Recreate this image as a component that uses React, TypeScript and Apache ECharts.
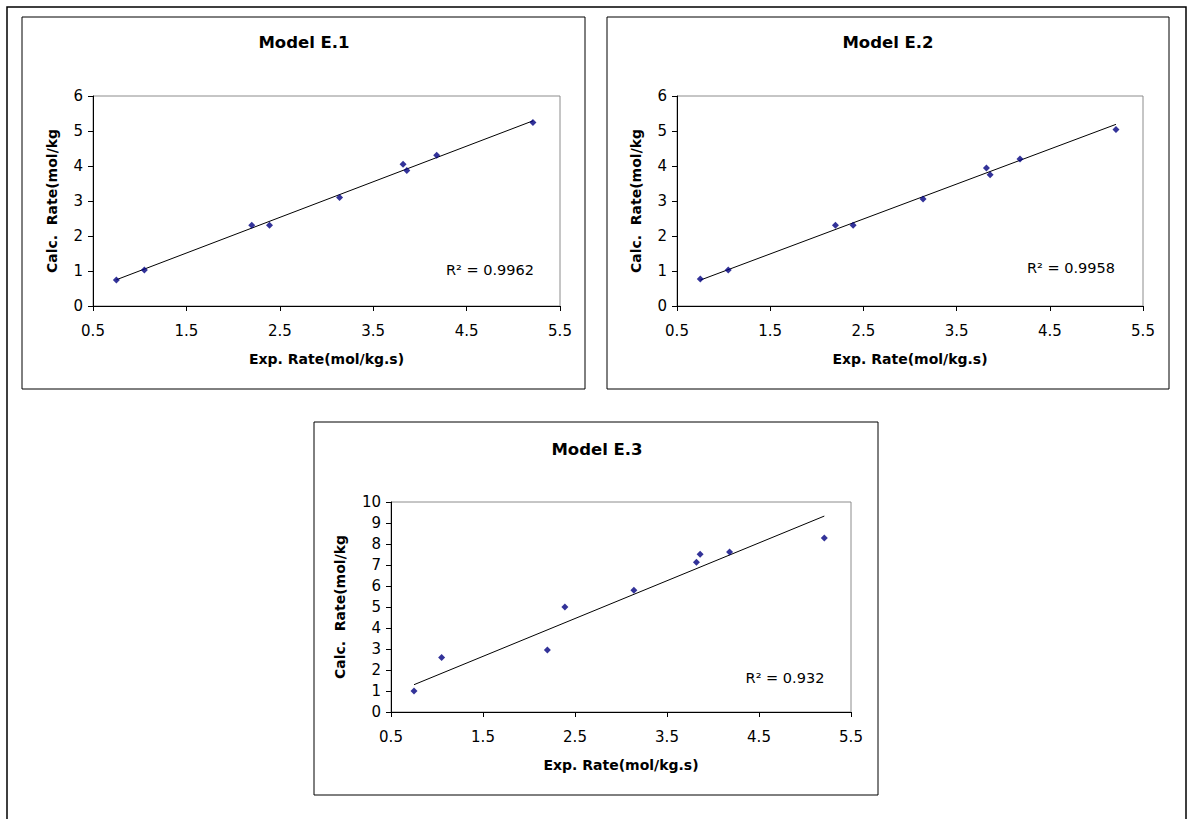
import React, { useEffect, useRef } from "react";
import * as echarts from "echarts";

// ---- data ----
const expRate = [0.75, 1.05, 2.2, 2.39, 3.14, 3.82, 3.86, 4.18, 5.21];
const calcE1 = [0.74, 1.03, 2.31, 2.31, 3.1, 4.05, 3.87, 4.31, 5.24];
const calcE2 = [0.77, 1.03, 2.31, 2.31, 3.06, 3.94, 3.75, 4.2, 5.04];
const calcE3 = [1.0, 2.59, 2.95, 5.0, 5.8, 7.13, 7.51, 7.62, 8.29];
const trendX = [0.75, 5.21];
const trendE1 = [0.75, 5.29];
const trendE2 = [0.74, 5.19];
const trendE3 = [1.3, 9.33];
const titles = ["Model E.1", "Model E.2", "Model E.3"];
const r2Labels = ["R\u00B2 = 0.9962", "R\u00B2 = 0.9958", "R\u00B2 = 0.932"];
const xTicks = [0.5, 1.5, 2.5, 3.5, 4.5, 5.5];
const yMax = [6, 6, 10];
const xName = "Exp. Rate(mol/kg.s)";
const yName = "Calc.  Rate(mol/kg";

const FONT = "DejaVu Sans";

export default function App() {
  const ref = useRef<HTMLDivElement>(null);
  useEffect(() => {
    if (!ref.current) return;
    const chart = echarts.init(ref.current, undefined, { renderer: "svg" });

    const grids = [
      { left: 93, top: 96, width: 467, height: 210 },
      { left: 677, top: 96, width: 466, height: 210 },
      { left: 391, top: 502, width: 460, height: 210 },
    ];
    const yNameGap = [34, 34, 44];
    const calcs = [calcE1, calcE2, calcE3];
    const trends = [trendE1, trendE2, trendE3];
    const titlePos = [
      { x: 304, y: 34 },
      { x: 888, y: 34 },
      { x: 597, y: 441 },
    ];
    const r2Pos = [
      { x: 490, y: 270 },
      { x: 1071, y: 268 },
      { x: 785, y: 678 },
    ];

    const option: any = {
      animation: false,
      backgroundColor: "#ffffff",
      textStyle: { fontFamily: FONT },
      title: titles.map((t, i) => ({
        text: t,
        left: titlePos[i].x,
        top: titlePos[i].y,
        textAlign: "center",
        padding: 0,
        textStyle: { fontSize: 16.5, fontWeight: "bold", color: "#000", fontFamily: FONT },
      })),
      grid: grids.map((g) => ({
        ...g,
        show: true,
        borderColor: "#8c8c8c",
        borderWidth: 1,
        backgroundColor: "#ffffff",
      })),
      xAxis: grids.map((_, i) => ({
        type: "value",
        gridIndex: i,
        min: 0.5,
        max: 5.5,
        name: xName,
        nameLocation: "middle",
        nameGap: 46,
        nameMoveOverlap: false,
        nameTextStyle: { fontWeight: "bold", fontSize: 14, color: "#000", fontFamily: FONT },
        axisLine: { show: true, onZero: false, lineStyle: { color: "#000", width: 1 } },
        axisTick: { show: true, inside: false, length: 5, customValues: xTicks, lineStyle: { color: "#000" } },
        axisLabel: {
          customValues: xTicks,
          formatter: (v: number) => v.toFixed(1),
          fontSize: 15,
          color: "#000",
          margin: 17,
          fontFamily: FONT,
        },
        splitLine: { show: false },
      })),
      yAxis: grids.map((_, i) => ({
        type: "value",
        gridIndex: i,
        min: 0,
        max: yMax[i],
        interval: 1,
        name: yName,
        nameLocation: "middle",
        nameRotate: 90,
        nameGap: yNameGap[i],
        nameMoveOverlap: false,
        nameTextStyle: { fontWeight: "bold", fontSize: 14, color: "#000", fontFamily: FONT },
        axisLine: { show: true, onZero: false, lineStyle: { color: "#000", width: 1 } },
        axisTick: { show: true, inside: false, length: 5, lineStyle: { color: "#000" } },
        axisLabel: { fontSize: 15, color: "#000", margin: 10, fontFamily: FONT },
        splitLine: { show: false },
      })),
      series: [
        ...calcs.map((c, i) => ({
          type: "scatter",
          xAxisIndex: i,
          yAxisIndex: i,
          data: expRate.map((x, k) => [x, c[k]]),
          symbol: "diamond",
          symbolSize: 7,
          itemStyle: { color: "#00007f" },
          z: 3,
        })),
        ...trends.map((t, i) => ({
          type: "line",
          xAxisIndex: i,
          yAxisIndex: i,
          data: trendX.map((x, k) => [x, t[k]]),
          symbol: "none",
          showSymbol: false,
          lineStyle: { color: "#000", width: 1 },
          z: 2,
        })),
      ],
      graphic: [
        {
          type: "polyline",
          shape: { points: [[7, 830], [7, 7], [1186, 7], [1186, 830]] },
          style: { stroke: "#000", lineWidth: 1.5, fill: "none" },
          silent: true,
        },
        {
          type: "rect",
          shape: { x: 22, y: 17, width: 563, height: 372 },
          style: { stroke: "#000", lineWidth: 1, fill: "none" },
          silent: true,
        },
        {
          type: "rect",
          shape: { x: 607, y: 17, width: 562, height: 372 },
          style: { stroke: "#000", lineWidth: 1, fill: "none" },
          silent: true,
        },
        {
          type: "rect",
          shape: { x: 314, y: 422, width: 564, height: 373 },
          style: { stroke: "#000", lineWidth: 1, fill: "none" },
          silent: true,
        },
        ...r2Labels.map((t, i) => ({
          type: "text",
          x: r2Pos[i].x,
          y: r2Pos[i].y,
          z: 10,
          style: {
            text: t,
            font: `14.5px "${FONT}"`,
            fill: "#000",
            align: "center",
            verticalAlign: "middle",
            textAlign: "center",
            textVerticalAlign: "middle",
          },
        })),
      ],
    };

    chart.setOption(option);
    return () => chart.dispose();
  }, []);

  return (
    <div
      ref={ref}
      style={{ position: "absolute", left: 0, top: 0, width: 1188, height: 819 }}
    />
  );
}
